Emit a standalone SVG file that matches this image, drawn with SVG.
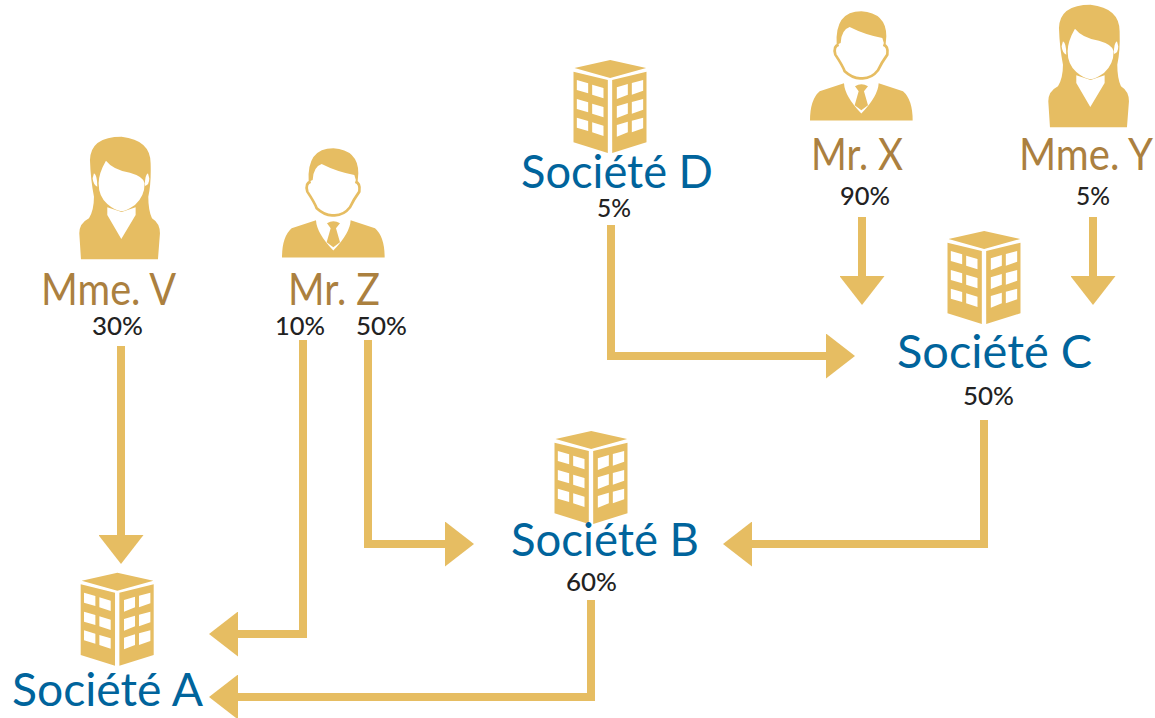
<svg xmlns="http://www.w3.org/2000/svg" xmlns:xlink="http://www.w3.org/1999/xlink" width="1155" height="718" viewBox="0 0 1155 718">
<style>
.g{fill:#e6bd62}.w{fill:#fff}
.c{fill:none;stroke:#e6bd62;stroke-width:8;marker-end:url(#h)}
text{font-family:"Lato","Liberation Sans",sans-serif}
.co{font-size:46px;fill:#00649c}
.pe{font-size:44px;fill:#ab803f}
.p{font-size:25px;fill:#222;font-weight:500}
</style>
<defs>
<marker id="h" markerUnits="userSpaceOnUse" markerWidth="30" markerHeight="45" viewBox="0 0 30 45" refX="0" refY="22.5" orient="auto"><path class="g" d="M0 0L29 22.5L0 45Z"/></marker>
<g id="bld" transform="scale(.3333)">
<path class="g" d="M3 24L110 0L218 24L110 54Z"/>
<path class="g" d="M0 35L103 60V279L0 247Z"/>
<path class="g" d="M116 60L219 35V247L116 279Z"/>
<g id="wr"><path class="w" d="M10 60L44 70V100L10 90ZM56 74L90 84V115L56 104ZM130 82L163 72V104L130 117ZM175 69L209 60V92L175 104Z"/></g>
<use xlink:href="#wr" y="57"/><use xlink:href="#wr" y="113"/>
</g>
<g id="wom" transform="scale(.3333)">
<path class="g" d="M5 368L0 290Q0 260 29 245Q44 220 44 180Q34 130 32 70Q34 0 127 0Q214 10 214 80Q216 140 207 180Q207 220 218 245Q242 260 242 290L236 368Z"/>
<path class="w" d="M80 72Q102 100 152 108Q194 120 196 140Q196 180 167 205Q142 222 127 224Q107 222 84 202Q58 180 58 140Q58 110 80 72Z"/>
<path class="w" d="M84 212L127 226L169 212V235L126 307L84 235Z"/>
<path class="w" d="M44 110Q54 115 54 150Q42 145 40 125ZM206 110Q196 115 197 148Q210 145 210 125Z"/>
</g>
<g id="man" transform="scale(.3333)">
<path class="g" d="M80 100Q74 0 154 0Q229 5 229 75L226 110L217 80Q164 70 119 47Q94 55 92 95Z"/>
<path d="M86 100Q69 105 76 130Q99 165 104 180Q129 203 154 201Q184 203 204 177Q214 155 232 130Q236 105 220 100" fill="none" stroke="#e6bd62" stroke-width="8"/>
<path class="g" d="M0 328Q0 265 29 240L102 216Q104 255 154 307Q204 255 206 216L279 240Q308 265 308 328Z"/>
<path class="g" d="M135 225Q154 213 174 225L162 240L174 282L154 297L134 282L146 240Z"/>
</g>
</defs>
<g id="connectors">
<path class="c" d="M121 346V535"/>
<path class="c" d="M303 340V634H238"/>
<path class="c" d="M368 340V544H445"/>
<path class="c" d="M591 600V697H238"/>
<path class="c" d="M984 420V544H752"/>
<path class="c" d="M611 225V356H826"/>
<path class="c" d="M862 217V276"/>
<path class="c" d="M1093 217V276"/>
</g>
<g id="mme-v"><use xlink:href="#wom" x="79.3" y="136.7"/><text class="pe" x="41" y="305" textLength="135" lengthAdjust="spacingAndGlyphs">Mme. V</text><text class="p" x="92" y="335" textLength="51" lengthAdjust="spacingAndGlyphs">30%</text></g>
<g id="mr-z"><use xlink:href="#man" x="282" y="148.3"/><text class="pe" x="288" y="305" textLength="92" lengthAdjust="spacingAndGlyphs">Mr. Z</text><text class="p" x="275" y="335" textLength="50" lengthAdjust="spacingAndGlyphs">10%</text><text class="p" x="356" y="335" textLength="51" lengthAdjust="spacingAndGlyphs">50%</text></g>
<g id="societe-d"><use xlink:href="#bld" x="573.5" y="60"/><text class="co" x="521" y="188" textLength="192" lengthAdjust="spacingAndGlyphs">Société D</text><text class="p" x="597" y="217" textLength="34" lengthAdjust="spacingAndGlyphs">5%</text></g>
<g id="mr-x"><use xlink:href="#man" x="810" y="11.3"/><text class="pe" x="811" y="170" textLength="92" lengthAdjust="spacingAndGlyphs">Mr. X</text><text class="p" x="840" y="205" textLength="50" lengthAdjust="spacingAndGlyphs">90%</text></g>
<g id="mme-y"><use xlink:href="#wom" x="1048.3" y="4.7"/><text class="pe" x="1019" y="170" textLength="134" lengthAdjust="spacingAndGlyphs">Mme. Y</text><text class="p" x="1076" y="205" textLength="34" lengthAdjust="spacingAndGlyphs">5%</text></g>
<g id="societe-c"><use xlink:href="#bld" x="947.5" y="231"/><text class="co" x="897" y="368" textLength="195" lengthAdjust="spacingAndGlyphs">Société C</text><text class="p" x="963" y="405" textLength="51" lengthAdjust="spacingAndGlyphs">50%</text></g>
<g id="societe-b"><use xlink:href="#bld" x="554.5" y="431"/><text class="co" x="511" y="556" textLength="188" lengthAdjust="spacingAndGlyphs">Société B</text><text class="p" x="566" y="591" textLength="51" lengthAdjust="spacingAndGlyphs">60%</text></g>
<g id="societe-a"><use xlink:href="#bld" x="80.7" y="572.7"/><text class="co" x="12" y="706" textLength="191" lengthAdjust="spacingAndGlyphs">Société A</text></g>
</svg>
